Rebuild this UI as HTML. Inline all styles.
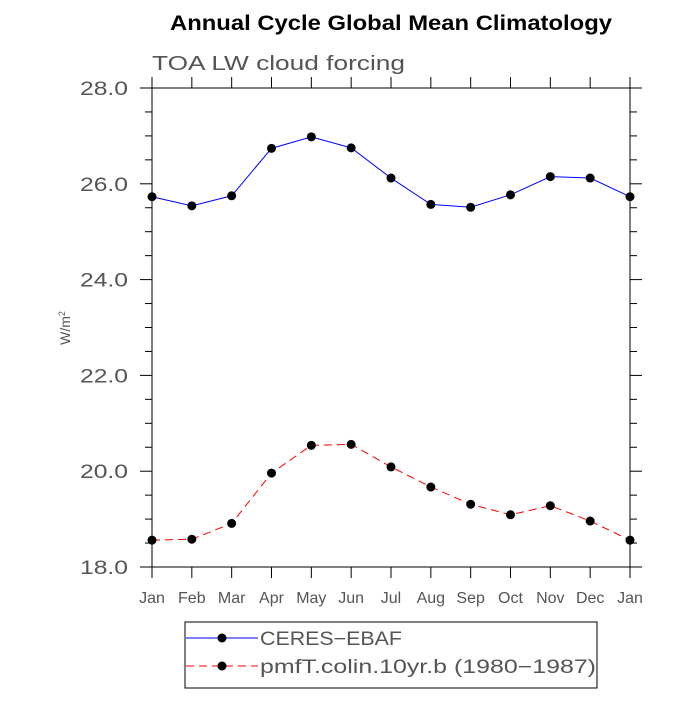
<!DOCTYPE html>
<html><head><meta charset="utf-8"><style>
body{margin:0;background:#fff}
svg text{font-family:"Liberation Sans",sans-serif}
</style></head><body>
<svg id="chart" width="700" height="700" xmlns="http://www.w3.org/2000/svg">
<text x="170" y="30" textLength="442" lengthAdjust="spacingAndGlyphs" font-size="21" font-weight="bold">Annual Cycle Global Mean Climatology</text>
<text x="152" y="70" textLength="253" lengthAdjust="spacingAndGlyphs" font-size="20" fill="#555">TOA LW cloud forcing</text>
<text transform="translate(70,328) rotate(-90)" text-anchor="middle" font-size="14" fill="#555">W/m<tspan dy="-5" font-size="9">2</tspan></text>
<rect x="152" y="88" width="478" height="479" fill="none" stroke="#000" stroke-width="1"/>
<g id="axes"></g>
<g id="series"></g>
<g>
<rect x="185" y="622" width="412" height="66" fill="none" stroke="#000"/>
<g>
<line x1="186" y1="638" x2="258" y2="638" stroke="#00f"/>
<circle cx="222" cy="638" r="4.5" fill="#000"/>
<text x="260" y="645" textLength="142" lengthAdjust="spacingAndGlyphs" font-size="19" fill="#555">CERES−EBAF</text>
</g>
<g>
<line x1="186" y1="666" x2="258" y2="666" stroke="#f00" stroke-dasharray="8,5"/>
<circle cx="222" cy="666" r="4.5" fill="#000"/>
<text x="260" y="673" textLength="336" lengthAdjust="spacingAndGlyphs" font-size="19" fill="#555">pmfT.colin.10yr.b (1980−1987)</text>
</g>
</g>
</svg>
<script>
const months=["Jan","Feb","Mar","Apr","May","Jun","Jul","Aug","Sep","Oct","Nov","Dec","Jan"];
const ceres=[25.73,25.54,25.75,26.74,26.98,26.75,26.12,25.57,25.51,25.77,26.15,26.12,25.73];
const model=[18.56,18.58,18.91,19.96,20.54,20.56,20.09,19.67,19.31,19.09,19.28,18.96,18.56];
const yTicks=["18.0","20.0","22.0","24.0","26.0","28.0"];
const NS="http://www.w3.org/2000/svg";
const x0=152,x1=630,y0=567,y1=88,ymin=18,ymax=28;
function xs(i){return x0+(x1-x0)*i/12;}
function ys(v){return y0-(v-ymin)/(ymax-ymin)*(y0-y1);}
function mk(t,a,p){const e=document.createElementNS(NS,t);for(const k in a)e.setAttribute(k,a[k]);p.appendChild(e);return e;}
const ax=document.getElementById('axes');
months.forEach((m,i)=>{
 const x=xs(i);
 const t1=mk('line',{x1:x,y1:y0,x2:x,y2:y0+11,stroke:'#000'},ax);
 
 
 mk('line',{x1:x,y1:y1,x2:x,y2:y1-11,stroke:'#000'},ax);
 const t=mk('text',{x:x,y:603,'text-anchor':'middle','font-size':16,fill:'#555'},ax);
 t.textContent=m;
 
 
});
for(let v=ymin;v<=ymax+1e-9;v+=0.5){
 const y=ys(v);const major=Math.abs(v/2-Math.round(v/2))<1e-6;const L=major?12:7;
 mk('line',{x1:x0,y1:y,x2:x0-L,y2:y,stroke:'#000'},ax);
 mk('line',{x1:x1,y1:y,x2:x1+L,y2:y,stroke:'#000'},ax);
}
yTicks.forEach(s=>{
 const t=mk('text',{x:80,y:ys(parseFloat(s))+7,textLength:48,lengthAdjust:'spacingAndGlyphs','font-size':19,fill:'#555'},ax);
 t.textContent=s;
 
 
});
const sg=document.getElementById('series');
function draw(vals,color,dash,name){
 const g=mk('g',{},sg);
 
 
 const p=mk('polyline',{points:vals.map((v,i)=>xs(i)+','+ys(v)).join(' '),fill:'none',stroke:color,'stroke-dasharray':dash},g);
 
 
 vals.forEach((v,i)=>{
  const c=mk('circle',{cx:xs(i),cy:ys(v),r:4.5,fill:'#000'},g);
  
  
 });
}
draw(ceres,'#00f','none','ceres-series');
draw(model,'#f00','8,5','model-series');
</script>
</body></html>
